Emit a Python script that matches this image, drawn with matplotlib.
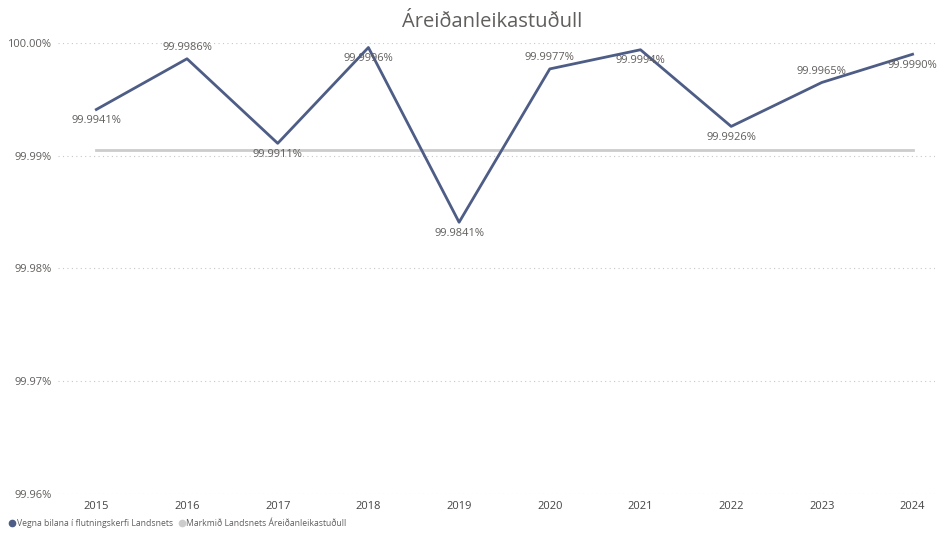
import matplotlib
matplotlib.use("Agg")
import matplotlib.pyplot as plt
from matplotlib.lines import Line2D
from matplotlib.ticker import FuncFormatter

years = [2015, 2016, 2017, 2018, 2019, 2020, 2021, 2022, 2023, 2024]
reliability = [99.9941, 99.9986, 99.9911, 99.9996, 99.9841, 99.9977, 99.9994, 99.9926, 99.9965, 99.9990]
target = 99.9905
labelAbove = [False, True, False, False, False, True, False, False, True, False]
yTicks = [99.96, 99.97, 99.98, 99.99, 100.00]

lineColor = "#4E5D86"
targetColor = "#CCCCCC"
textColor = "#605E5C"

plt.rcParams['font.family'] = ['Open Sans', 'DejaVu Sans']

fig = plt.figure(figsize=(9.39, 5.34), dpi=100)
ax = fig.add_axes([0.062, 0.075, 0.934, 0.8445])

ax.plot([years[0], years[-1]], [target, target], color=targetColor, linewidth=2, zorder=2)
ax.plot(years, reliability, color=lineColor, linewidth=2, zorder=3)

for x, y, above in zip(years, reliability, labelAbove):
    if above:
        ax.annotate(f"{y:.4f}%", (x, y), xytext=(0, 4), textcoords="offset points",
                    ha="center", va="bottom", fontsize=8, color=textColor)
    else:
        ax.annotate(f"{y:.4f}%", (x, y), xytext=(0, -4), textcoords="offset points",
                    ha="center", va="top", fontsize=8, color=textColor)

ax.set_xlim(2014.58, 2024.25)
ax.set_ylim(99.96, 100.00)
ax.set_yticks(yTicks)
ax.yaxis.set_major_formatter(FuncFormatter(lambda v, p: f"{v:.2f}%"))
ax.set_xticks(years)
ax.tick_params(length=0, labelsize=8, colors=textColor, pad=5)
ax.tick_params(axis='x', colors="#444444", pad=5)
ax.grid(axis='y', linestyle=(0, (1, 3)), color="#C8C8C8", linewidth=0.8)
for s in ax.spines.values():
    s.set_visible(False)

fig.suptitle("Áreiðanleikastuðull", x=0.524, y=0.978, fontsize=14.5, color=textColor)

handles = [
    Line2D([], [], marker='o', linestyle='', color=lineColor, markersize=4.5),
    Line2D([], [], marker='o', linestyle='', color=targetColor, markersize=4.5),
]
fig.legend(handles, ["Vegna bilana í flutningskerfi Landsnets", "Markmið Landsnets Áreiðanleikastuðull"],
           loc="lower left", bbox_to_anchor=(0.0, -0.003), ncol=2, frameon=False, fontsize=6.2,
           handletextpad=0.05, columnspacing=0.5, labelcolor=textColor, handlelength=1)

fig.savefig("out.png", dpi=100)
